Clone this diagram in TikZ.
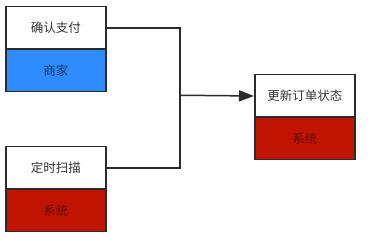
\documentclass[tikz,border=0pt]{standalone}
\usepackage{fontspec}
\setmainfont{Noto Sans CJK SC}
\usetikzlibrary{arrows.meta}
\definecolor{boxline}{HTML}{2B2B2B}
\definecolor{blueFill}{HTML}{2E8CFF}
\definecolor{redFill}{HTML}{C11400}
\definecolor{headText}{HTML}{333333}
\definecolor{blueText}{HTML}{1B3C66}
\definecolor{redText}{HTML}{5C0C05}
\tikzset{
  cell/.style={draw=boxline, line width=1.5pt, minimum width=100pt, minimum height=42.5pt,
    inner sep=0pt, anchor=north west, font=\fontsize{12.5}{14}\selectfont},
  headcell/.style={cell, fill=white, text=headText},
  bluecell/.style={cell, fill=blueFill, text=blueText},
  redcell/.style={cell, fill=redFill, text=redText},
  conn/.style={draw=boxline, line width=1.5pt},
}
\begin{document}
\begin{tikzpicture}[x=1pt,y=-1pt]
\useasboundingbox (0,0) rectangle (373,237);
\node[headcell] (pay) at (5,6) {确认支付};
\node[bluecell] (merchant) at (5,48.5) {商家};
\node[headcell] (scan) at (5,146) {定时扫描};
\node[redcell] (sys1) at (5,188.5) {系统};
\node[headcell] (update) at (254,74) {更新订单状态};
\node[redcell] (sys2) at (254,116.5) {系统};
\coordinate (join) at (180,95.25);
\draw[conn] (pay.east) -| (join);
\draw[conn] (scan.east) -| (join);
\draw[conn, -{Triangle[length=15pt,width=11pt]}] (join) -- (update.west);
\end{tikzpicture}
\end{document}
